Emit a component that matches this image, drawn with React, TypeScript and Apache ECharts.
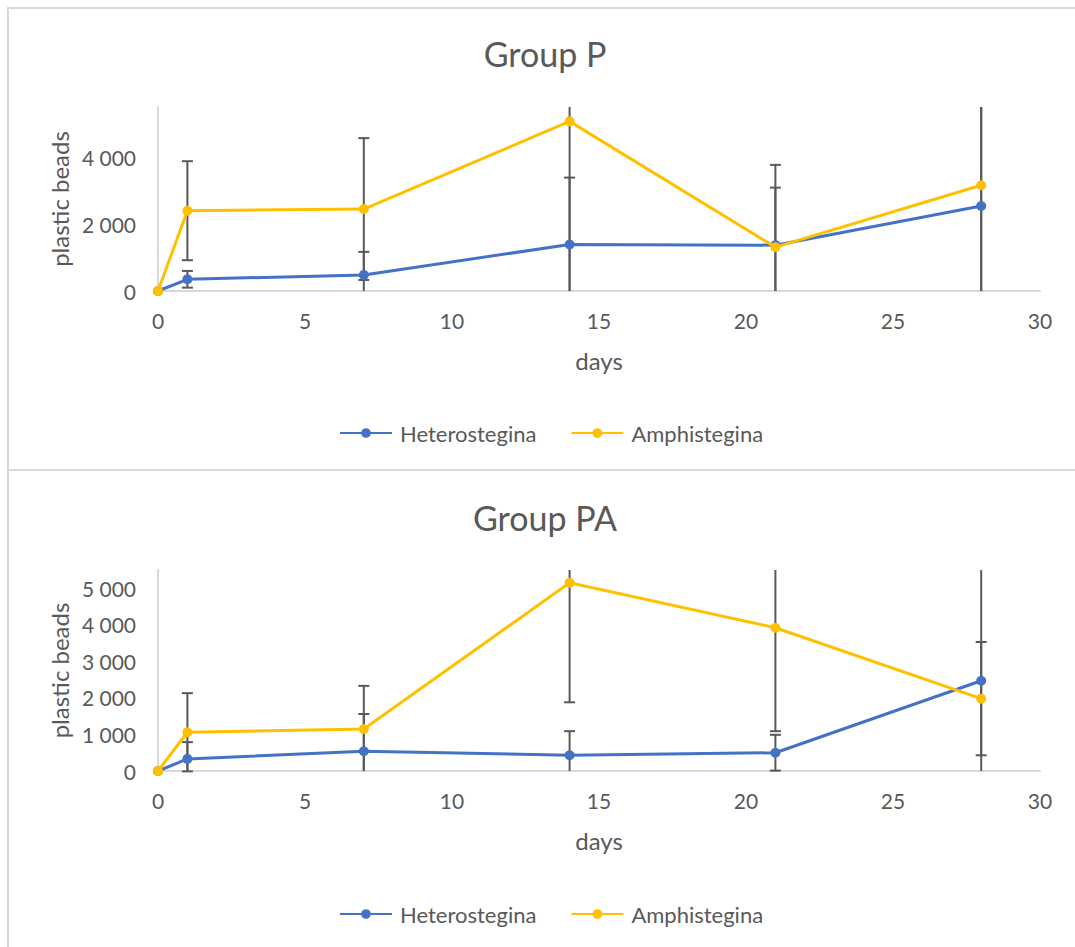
import React, { useEffect, useRef } from "react";
import * as echarts from "echarts";

const days = [0, 1, 7, 14, 21, 28];
const seriesNames = ["Heterostegina", "Amphistegina"];
const chartTitles = ["Group P", "Group PA"];

// Group P
const pHetero = [0, 350, 480, 1390, 1370, 2540];
const pHeteroErr = [0, 250, 690, 2000, 1720, 3600];
const pAmphi = [0, 2400, 2450, 5070, 1310, 3160];
const pAmphiErr = [0, 1480, 2120, 5300, 2460, 3500];

// Group PA
const paHetero = [0, 330, 540, 430, 500, 2470];
const paHeteroErr = [0, 460, 1020, 660, 490, 3200];
const paAmphi = [0, 1060, 1150, 5150, 3920, 1980];
const paAmphiErr = [0, 1070, 1180, 3270, 2830, 1550];

const pYTicks = { min: 0, max: 5500, interval: 2000 };
const paYTicks = { min: 0, max: 5500, interval: 1000 };
const xTicks = { min: 0, max: 30, interval: 5 };

const BLUE = "#4472C4";
const GOLD = "#FFC000";
const TXT = "#595959";
const AXIS = "#d9d9d9";
const ERR = "#595959";
const FONT = "Lato, 'Noto Sans', sans-serif";

function errRenderItem(params: any, api: any) {
  const x = api.value(0);
  const y = api.value(1);
  const e = api.value(2);
  if (!e) return null;
  const top = api.coord([x, y + e]);
  const bot = api.coord([x, y - e]);
  const cs = params.coordSys;
  const yMin = cs.y;
  const yMax = cs.y + cs.height;
  const y1 = Math.max(top[1], yMin);
  const y2 = Math.min(bot[1], yMax);
  const px = top[0];
  const hw = 5.5;
  const st = { stroke: ERR, lineWidth: 2 };
  const children: any[] = [
    { type: "line", shape: { x1: px, y1, x2: px, y2 }, style: st },
  ];
  if (top[1] >= yMin - 0.5)
    children.push({ type: "line", shape: { x1: px - hw, y1: top[1], x2: px + hw, y2: top[1] }, style: st });
  if (bot[1] <= yMax + 0.5)
    children.push({ type: "line", shape: { x1: px - hw, y1: bot[1], x2: px + hw, y2: bot[1] }, style: st });
  return { type: "group", children };
}

function errData(vals: number[], errs: number[]) {
  return days.map((d, i) => [d, vals[i], errs[i]]);
}
function lineData(vals: number[]) {
  return days.map((d, i) => [d, vals[i]]);
}

export default function App() {
  const ref = useRef<HTMLDivElement>(null);
  useEffect(() => {
    if (!ref.current) return;
    const chart = echarts.init(ref.current, undefined, { renderer: "svg" });

    const grids = [
      { left: 158, top: 107, width: 882, height: 184 },
      { left: 158, top: 570, width: 882, height: 201 },
    ];
    const yTicks = [pYTicks, paYTicks];

    const mkX = (gi: number) => ({
      type: "value",
      gridIndex: gi,
      ...xTicks,
      name: "days",
      nameLocation: "middle",
      nameGap: 57,
      nameTextStyle: { color: TXT, fontSize: 24, fontFamily: FONT },
      axisLine: { show: true, lineStyle: { color: AXIS, width: 2 } },
      axisTick: { show: false },
      splitLine: { show: false },
      axisLabel: { color: TXT, fontSize: 21, fontFamily: FONT, margin: 19 },
    });
    const mkY = (gi: number) => ({
      type: "value",
      gridIndex: gi,
      ...yTicks[gi],
      name: "plastic beads",
      nameLocation: "middle",
      nameGap: 80,
      nameTextStyle: { color: TXT, fontSize: 24, fontFamily: FONT },
      axisLine: { show: true, lineStyle: { color: AXIS, width: 2 } },
      axisTick: { show: false },
      splitLine: { show: false },
      axisLabel: {
        color: TXT,
        fontSize: 21,
        fontFamily: FONT,
        margin: 22,
        showMaxLabel: false,
        formatter: (v: number) => (v >= 1000 ? `${Math.floor(v / 1000)} ${String(v % 1000).padStart(3, "0")}` : String(v)),
      },
    });

    const groups = [
      { h: pHetero, he: pHeteroErr, a: pAmphi, ae: pAmphiErr },
      { h: paHetero, he: paHeteroErr, a: paAmphi, ae: paAmphiErr },
    ];

    const series: any[] = [];
    groups.forEach((g, gi) => {
      series.push({
        type: "custom",
        name: "err-h-" + gi,
        xAxisIndex: gi,
        yAxisIndex: gi,
        renderItem: errRenderItem,
        encode: { x: 0, y: 1 },
        data: errData(g.h, g.he),
        z: 1,
        silent: true,
      });
      series.push({
        type: "custom",
        name: "err-a-" + gi,
        xAxisIndex: gi,
        yAxisIndex: gi,
        renderItem: errRenderItem,
        encode: { x: 0, y: 1 },
        data: errData(g.a, g.ae),
        z: 1,
        silent: true,
      });
    });
    groups.forEach((g, gi) => {
      series.push({
        type: "line",
        name: seriesNames[0],
        xAxisIndex: gi,
        yAxisIndex: gi,
        data: lineData(g.h),
        color: BLUE,
        lineStyle: { color: BLUE, width: 3 },
        itemStyle: { color: BLUE },
        symbol: "circle",
        symbolSize: 10,
        z: 3,
      });
      series.push({
        type: "line",
        name: seriesNames[1],
        xAxisIndex: gi,
        yAxisIndex: gi,
        data: lineData(g.a),
        color: GOLD,
        lineStyle: { color: GOLD, width: 3 },
        itemStyle: { color: GOLD },
        symbol: "circle",
        symbolSize: 10,
        z: 4,
      });
    });

    const mkLegend = (top: number) => ({
      top,
      left: 334,
      data: seriesNames,
      itemWidth: 52,
      itemHeight: 12,
      itemGap: 34,
      textStyle: { color: TXT, fontSize: 22, fontFamily: FONT, padding: [0, 0, 0, 3] },
      selectedMode: false,
    });

    const mkTitle = (text: string, top: number) => ({
      text,
      left: 540,
      textAlign: "center",
      top,
      textStyle: { color: TXT, fontSize: 34, fontWeight: "normal", fontFamily: FONT },
    });

    chart.setOption({
      animation: false,
      backgroundColor: "#ffffff",
      title: [mkTitle(chartTitles[0], 31), mkTitle(chartTitles[1], 495)],
      legend: [mkLegend(417), mkLegend(898)],
      grid: grids,
      xAxis: [mkX(0), mkX(1)],
      yAxis: [mkY(0), mkY(1)],
      series,
      graphic: [
        { type: "line", shape: { x1: 8, y1: 7, x2: 8, y2: 947 }, style: { stroke: AXIS, lineWidth: 2 }, silent: true },
        { type: "line", shape: { x1: 7, y1: 8, x2: 1075, y2: 8 }, style: { stroke: AXIS, lineWidth: 2 }, silent: true },
        { type: "line", shape: { x1: 7, y1: 470, x2: 1075, y2: 470 }, style: { stroke: AXIS, lineWidth: 2 }, silent: true },
      ],
    });
    return () => chart.dispose();
  }, []);
  return (
    <div
      ref={ref}
      style={{ position: "absolute", left: 0, top: 0, width: 1075, height: 947, background: "#fff" }}
    />
  );
}
